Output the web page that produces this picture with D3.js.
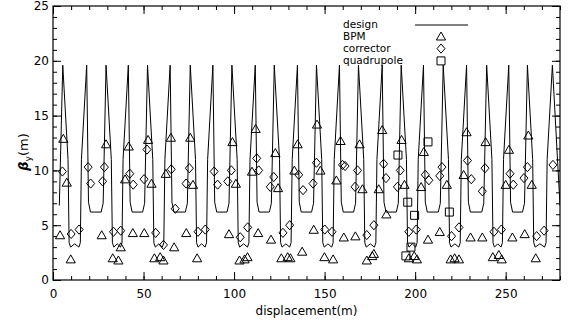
<!DOCTYPE html>
<html>
<head>
<meta charset="utf-8">
<script src="https://cdn.jsdelivr.net/npm/d3@7"></script>
<style>
  body { margin: 0; background: #fff; }
  text { font-family: "DejaVu Sans", sans-serif; }
</style>
</head>
<body>
<svg id="chart"></svg>
<script>
// tick labels
const xTicks = [0, 50, 100, 150, 200, 250];
const yTicks = [0, 5, 10, 15, 20, 25];
const legendLabels = ["design", "BPM", "corrector", "quadrupole"];

// design beta: spike positions (before / after the W-shaped valley)
const peaksA = [5.4, 29.3, 52.2, 75.8, 98.8, 122.2, 145.5, 168.7, 192.3, 215.5, 239.5, 262.0];
const peaksB = [18.6, 41.6, 64.7, 88.3, 111.7, 135.0, 158.2, 181.8, 204.6, 228.4, 251.7, 275.8];
const peakBeta = 19.6;
// valley profiles, [distance from nearest spike, beta]
const wLeg = [[2.9, 11.0], [3.5, 3.4], [4.3, 3.0]];
const wCentre = 3.3;
const uLegB = [[1.0, 7.1], [2.1, 6.2]];
const uLegA = [[1.6, 7.0], [2.7, 6.2]];
const designStart = [3.5, 6.8];
const designEnd = [280, 6.8];

// measured beta at BPMs [s, beta]
const bpm = [
  [3.9, 4.1], [5.7, 12.9], [7.6, 8.9], [9.8, 1.9], [26.9, 4.1], [29.3, 12.4], [33.0, 2.0],
  [36.1, 1.8], [37.4, 3.0], [39.8, 9.2], [41.8, 12.2], [44.1, 4.3], [50.4, 4.3], [52.5, 12.8],
  [54.4, 8.8], [56.0, 2.0], [59.2, 2.1], [61.0, 1.8], [62.3, 9.7], [65.1, 13.0], [66.9, 3.0],
  [73.6, 4.3], [75.8, 13.0], [77.3, 8.7], [79.6, 2.0], [97.2, 4.2], [99.1, 12.6], [101.0, 8.8],
  [103.0, 1.8], [105.8, 1.9], [107.4, 2.1], [109.9, 9.9], [111.9, 13.8], [113.3, 4.3],
  [120.4, 3.7], [122.8, 11.6], [124.3, 8.4], [126.1, 2.0], [129.6, 2.1], [131.1, 2.0],
  [133.3, 10.0], [135.1, 12.4], [137.6, 2.6], [144.0, 4.6], [145.8, 14.2], [147.7, 10.0],
  [149.9, 2.1], [154.7, 1.9], [156.5, 9.1], [158.8, 12.7], [160.6, 3.9], [167.0, 4.0],
  [169.3, 12.4], [170.9, 8.3], [173.3, 1.8], [176.3, 2.2], [177.2, 2.4], [179.9, 8.3],
  [181.8, 13.7], [184.1, 6.0], [192.5, 12.8], [194.1, 8.7], [196.5, 2.0], [199.5, 2.2],
  [201.0, 1.9], [203.3, 8.5], [204.8, 11.7], [207.1, 3.7], [213.6, 4.4], [217.5, 8.7],
  [219.6, 1.9], [221.8, 2.0], [224.2, 1.9], [226.8, 9.6], [228.4, 13.5], [230.6, 3.9],
  [237.1, 3.9], [238.9, 12.6], [242.9, 2.1], [246.2, 2.3], [247.8, 1.9], [250.0, 8.7],
  [251.8, 11.9], [253.7, 3.9], [260.5, 4.2], [262.5, 13.2], [264.4, 8.7], [266.6, 2.0]
];

// measured beta at correctors [s, beta]
const corrector = [
  [5.2, 9.9], [10.0, 4.2], [14.4, 4.6], [19.4, 10.3], [20.8, 8.8], [27.4, 9.0], [28.4, 10.3],
  [33.4, 4.4], [37.4, 4.5], [42.4, 9.7], [44.3, 8.7], [50.3, 9.2], [51.9, 11.9], [56.7, 4.3],
  [61.0, 3.2], [65.3, 10.1], [67.5, 6.5], [73.5, 8.8], [75.3, 10.2], [80.1, 4.4], [84.1, 4.6],
  [89.0, 9.9], [90.9, 8.7], [96.5, 9.0], [98.5, 10.0], [103.4, 3.9], [107.5, 4.8],
  [112.5, 11.1], [113.6, 10.0], [120.0, 8.5], [121.9, 9.4], [127.0, 4.3], [130.7, 5.0],
  [135.7, 9.6], [138.1, 8.2], [143.6, 8.8], [145.5, 10.7], [150.1, 4.6], [154.1, 4.4],
  [159.9, 10.5], [161.3, 10.4], [166.8, 8.5], [168.2, 10.0], [173.3, 4.1], [177.2, 5.0],
  [182.6, 10.6], [183.9, 9.3], [190.2, 8.5], [191.8, 10.0], [196.5, 4.4], [200.6, 4.6],
  [205.6, 9.6], [207.6, 9.1], [213.6, 9.5], [214.8, 10.3], [220.1, 4.0], [224.2, 4.8],
  [228.9, 10.9], [231.0, 9.2], [237.1, 8.1], [238.6, 10.2], [243.5, 4.4], [247.6, 4.6],
  [252.4, 9.7], [254.2, 8.7], [260.1, 9.3], [262.0, 10.3], [267.1, 4.0], [271.2, 4.5],
  [276.1, 10.5]
];

// measured beta at quadrupoles [s, beta]
const quadrupole = [
  [190.5, 11.4], [195.9, 7.1], [199.7, 5.9], [197.7, 3.0], [194.9, 2.2], [207.1, 12.6], [218.9, 6.2]
];

//margins
const margin = { top: 6, right: 8, bottom: 40, left: 53 };
const width = 568 - margin.left - margin.right;
const height = 320 - margin.top - margin.bottom;

const svg = d3.select("#chart")
  .attr("width", 568)
  .attr("height", 320);

svg.append("rect").attr("width", 568).attr("height", 320).attr("fill", "#fff");

const g = svg.append("g")
  .attr("transform", `translate(${margin.left},${margin.top})`);

const x = d3.scaleLinear().domain([0, 280]).range([0, width]);
const y = d3.scaleLinear().domain([0, 25]).range([height, 0]);

// build the design curve from the cell profile
const design = [designStart];
peaksA.forEach((a, i) => {
  const b = peaksB[i];
  design.push([a, peakBeta]);
  wLeg.forEach(([o, v]) => design.push([a + o, v]));
  design.push([(a + b) / 2, wCentre]);
  wLeg.slice().reverse().forEach(([o, v]) => design.push([b - o, v]));
  design.push([b, peakBeta]);
  const next = peaksA[i + 1];
  if (next !== undefined) {
    uLegB.forEach(([o, v]) => design.push([b + o, v]));
    uLegA.slice().reverse().forEach(([o, v]) => design.push([next - o, v]));
  }
});
design.push(designEnd);

g.append("clipPath").attr("id", "clip")
  .append("rect").attr("width", width).attr("height", height);

const line = d3.line().x(d => x(d[0])).y(d => y(d[1]));

g.append("path")
  .datum(design)
  .attr("clip-path", "url(#clip)")
  .attr("d", line)
  .attr("fill", "none")
  .attr("stroke", "#000")
  .attr("stroke-width", 1);

// marker shapes
const shapes = {
  triangle: "M0,-4.3L4.6,3.7L-4.6,3.7Z",
  diamond: "M0,-4.6L4,0L0,4.6L-4,0Z",
  square: "M-4,-4L4,-4L4,4L-4,4Z"
};

function drawMarkers(data, shape) {
  g.append("g").selectAll("path")
    .data(data)
    .join("path")
    .attr("transform", d => `translate(${x(d[0])},${y(d[1])})`)
    .attr("d", shapes[shape])
    .attr("fill", "none")
    .attr("stroke", "#000")
    .attr("stroke-width", 1);
}
drawMarkers(bpm, "triangle");
drawMarkers(corrector, "diamond");
drawMarkers(quadrupole, "square");

// axes: major and minor ticks on all four sides, pointing inwards
function styleAxis(sel) {
  sel.select(".domain").remove();
  sel.selectAll("line").attr("stroke", "#000").attr("stroke-width", 1);
  sel.selectAll("text").attr("font-family", "DejaVu Sans").attr("font-size", 12).attr("fill", "#000");
}

const xMinor = d3.range(0, 281, 10);
const yMinor = d3.range(0, 26, 1);

g.append("g").attr("transform", `translate(0,${height})`)
  .call(d3.axisBottom(x).tickValues(xMinor).tickSize(-4).tickFormat(""))
  .call(styleAxis);
g.append("g").attr("transform", `translate(0,${height})`)
  .call(d3.axisBottom(x).tickValues(xTicks).tickSize(-8).tickPadding(9).tickFormat(d3.format("d")))
  .call(styleAxis);
g.append("g")
  .call(d3.axisTop(x).tickValues(xMinor).tickSize(-4).tickFormat(""))
  .call(styleAxis);
g.append("g")
  .call(d3.axisTop(x).tickValues(xTicks).tickSize(-8).tickFormat(""))
  .call(styleAxis);

g.append("g")
  .call(d3.axisLeft(y).tickValues(yMinor).tickSize(-4).tickFormat(""))
  .call(styleAxis);
g.append("g")
  .call(d3.axisLeft(y).tickValues(yTicks).tickSize(-8).tickPadding(4).tickFormat(d3.format("d")))
  .call(styleAxis);
g.append("g").attr("transform", `translate(${width},0)`)
  .call(d3.axisRight(y).tickValues(yMinor).tickSize(-4).tickFormat(""))
  .call(styleAxis);
g.append("g").attr("transform", `translate(${width},0)`)
  .call(d3.axisRight(y).tickValues(yTicks).tickSize(-8).tickFormat(""))
  .call(styleAxis);

// frame
g.append("rect")
  .attr("width", width)
  .attr("height", height)
  .attr("fill", "none")
  .attr("stroke", "#000")
  .attr("stroke-width", 1.2);

// axis titles
g.append("text")
  .attr("x", width / 2)
  .attr("y", height + 35)
  .attr("text-anchor", "middle")
  .attr("font-size", 12)
  .text("displacement(m)");

const yTitle = svg.append("text")
  .attr("transform", "translate(28,152) rotate(-90)")
  .attr("text-anchor", "middle")
  .attr("font-size", 13);
yTitle.append("tspan").attr("font-weight", "bold").attr("font-style", "italic").text("β");
yTitle.append("tspan").attr("font-size", 9).attr("dy", 3).text("y");
yTitle.append("tspan").attr("dy", -3).text("(m)");

// legend
const legend = svg.append("g").attr("transform", "translate(343,27.5)");
const rowH = 12.3;
legend.selectAll("text")
  .data(legendLabels)
  .join("text")
  .attr("x", 0)
  .attr("y", (d, i) => i * rowH)
  .attr("font-size", 10.5)
  .text(d => d);

legend.append("line")
  .attr("x1", 72).attr("x2", 125)
  .attr("y1", -2.5).attr("y2", -2.5)
  .attr("stroke", "#000");

["triangle", "diamond", "square"].forEach((s, i) => {
  legend.append("path")
    .attr("transform", `translate(98,${(i + 1) * rowH - 3.5})`)
    .attr("d", shapes[s])
    .attr("fill", "none")
    .attr("stroke", "#000");
});
</script>
</body>
</html>
